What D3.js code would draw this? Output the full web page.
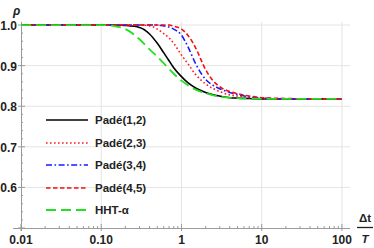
<!DOCTYPE html>
<html>
<head>
<meta charset="utf-8">
<script src="https://cdn.jsdelivr.net/npm/d3@7"></script>
<style>
  body { margin: 0; background: #fff; }
  svg { display: block; font-family: "Liberation Sans", Arial, sans-serif; }
  .tick-label { font-size: 12px; font-weight: bold; fill: #222; }
  .legend-label { font-size: 11.5px; font-weight: bold; fill: #222; }
</style>
</head>
<body>
<svg id="chart" width="374" height="248"></svg>
<script>
"use strict";

// ===== Data =====
const xs       = [0.01, 0.05, 0.1, 0.15, 0.2, 0.3, 0.4, 0.5, 0.6, 0.7, 0.8, 1, 1.2, 1.5, 2, 2.5, 3, 4, 5, 7, 10, 20, 50, 100];
const pade12   = [1, 1, 1, 1, 0.999, 0.994, 0.978, 0.955, 0.932, 0.912, 0.895, 0.873, 0.858, 0.845, 0.834, 0.828, 0.825, 0.821, 0.82, 0.819, 0.818, 0.818, 0.818, 0.818];
const pade23   = [1, 1, 1, 1, 1, 1, 0.998, 0.99, 0.979, 0.968, 0.955, 0.926, 0.905, 0.878, 0.855, 0.843, 0.836, 0.828, 0.825, 0.821, 0.819, 0.818, 0.818, 0.818];
const pade34   = [1, 1, 1, 1, 1, 1, 1, 1, 0.998, 0.995, 0.99, 0.975, 0.947, 0.905, 0.866, 0.851, 0.843, 0.834, 0.829, 0.823, 0.82, 0.818, 0.818, 0.818];
const pade45   = [1, 1, 1, 1, 1, 1, 1, 1, 1, 1, 0.997, 0.99, 0.975, 0.944, 0.89, 0.862, 0.848, 0.836, 0.831, 0.825, 0.821, 0.819, 0.818, 0.818];
const hht      = [1, 1, 1, 0.997, 0.99, 0.965, 0.94, 0.922, 0.906, 0.892, 0.88, 0.863, 0.852, 0.841, 0.832, 0.827, 0.824, 0.821, 0.82, 0.819, 0.818, 0.818, 0.818, 0.818];
const xTicks   = [0.01, 0.1, 1, 10, 100];
const xTickLabels = ["0.01", "0.10", "1", "10", "100"];
const yTicks   = [0.6, 0.7, 0.8, 0.9, 1.0];

const series = [
  { name: "Padé(1,2)", values: pade12, color: "#000000", dash: null,        width: 1.6 },
  { name: "Padé(2,3)", values: pade23, color: "#ff1a1a", dash: "1.6,2.4",   width: 1.6 },
  { name: "Padé(3,4)", values: pade34, color: "#1a1aff", dash: "6,2.5,1.6,2.5", width: 1.6 },
  { name: "Padé(4,5)", values: pade45, color: "#ee1111", dash: "4.5,2.5",   width: 1.6 },
  { name: "HHT-α",     values: hht,    color: "#22e022", dash: "10,5",      width: 1.8 }
];

// ===== Setup =====
const svg = d3.select("#chart");
const x = d3.scaleLog().domain([0.01, 126]).range([21, 350]);
const y = d3.scaleLinear().domain([0.5, 1.0075]).range([228, 22]);

// Grid
const grid = svg.append("g").attr("stroke", "#e4e4e4").attr("stroke-width", 1);
xTicks.slice(1).forEach(t => {
  grid.append("line")
    .attr("x1", x(t)).attr("x2", x(t))
    .attr("y1", y.range()[1]).attr("y2", y.range()[0]);
});
yTicks.forEach(t => {
  grid.append("line")
    .attr("x1", x.range()[0]).attr("x2", x.range()[1])
    .attr("y1", y(t)).attr("y2", y(t));
});

// Axes
const axisColor = "#9a9a9a";
const axes = svg.append("g").attr("stroke", axisColor).attr("stroke-width", 1);
axes.append("line").attr("x1", 13).attr("x2", x.range()[1])
  .attr("y1", y(0.5) + 0.5).attr("y2", y(0.5) + 0.5);
axes.append("line").attr("x1", x(0.01) + 0.5).attr("x2", x(0.01) + 0.5)
  .attr("y1", y.range()[1]).attr("y2", y(0.5) + 3);

// x ticks (major + minor, pointing up)
x.ticks().forEach(t => {
  const major = xTicks.includes(t);
  if (t > 120) return;
  axes.append("line").attr("x1", x(t)).attr("x2", x(t))
    .attr("y1", y(0.5) + (major ? 3 : 0.5)).attr("y2", y(0.5) - (major ? 4 : 2));
});
// y ticks (major every 0.1, minor every 0.02)
d3.range(0.5, 1.0001, 0.02).forEach(t => {
  const major = Math.abs(t * 10 - Math.round(t * 10)) < 1e-6;
  axes.append("line").attr("x1", x(0.01) - (major ? 3 : 0)).attr("x2", x(0.01) + (major ? 4 : 2))
    .attr("y1", y(t)).attr("y2", y(t));
});

// Tick labels
xTicks.forEach((t, i) => {
  svg.append("text").attr("class", "tick-label")
    .attr("x", x(t)).attr("y", 244).attr("text-anchor", "middle")
    .text(xTickLabels[i]);
});
yTicks.forEach(t => {
  svg.append("text").attr("class", "tick-label")
    .attr("x", 17).attr("y", y(t) + 5).attr("text-anchor", "end")
    .text(t.toFixed(1));
});

// Axis labels
svg.append("text").attr("x", 13).attr("y", 15)
  .attr("font-size", 12).attr("font-weight", "bold").attr("font-style", "italic")
  .attr("fill", "#222").text("ρ");
svg.append("text").attr("x", 365).attr("y", 222).attr("text-anchor", "middle")
  .attr("font-size", 11.5).attr("font-weight", "bold").attr("fill", "#222").text("Δt");
svg.append("line").attr("x1", 357).attr("x2", 373).attr("y1", 227.5).attr("y2", 227.5)
  .attr("stroke", "#222").attr("stroke-width", 1.3);
svg.append("text").attr("x", 365).attr("y", 243).attr("text-anchor", "middle")
  .attr("font-size", 11.5).attr("font-weight", "bold").attr("font-style", "italic")
  .attr("fill", "#222").text("T");

// Curves
const line = d3.line()
  .x((d, i) => x(xs[i]))
  .y(d => y(d))
  .curve(d3.curveMonotoneX);

const curves = svg.append("g").attr("fill", "none");
series.forEach(s => {
  curves.append("path")
    .attr("d", line(s.values))
    .attr("stroke", s.color)
    .attr("stroke-width", s.width)
    .attr("stroke-dasharray", s.dash);
});

// Legend
const legendY = [120, 143, 165, 188, 210];
series.forEach((s, i) => {
  svg.append("line")
    .attr("x1", 46).attr("x2", 88)
    .attr("y1", legendY[i]).attr("y2", legendY[i])
    .attr("stroke", s.color).attr("stroke-width", s.width)
    .attr("stroke-dasharray", s.dash);
  svg.append("text").attr("class", "legend-label")
    .attr("x", 95).attr("y", legendY[i] + 4)
    .text(s.name);
});
</script>
</body>
</html>
